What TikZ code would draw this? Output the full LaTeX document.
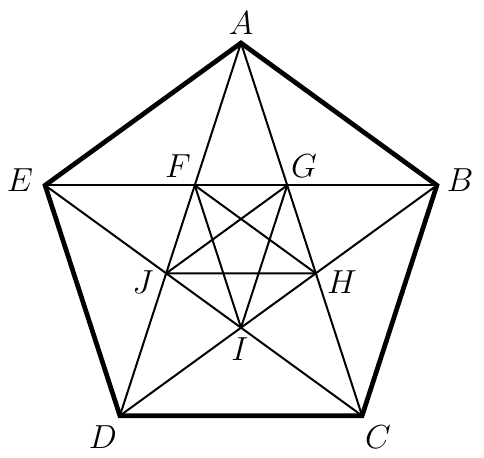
\documentclass[tikz,border=0pt]{standalone}

\tikzset{
	rim/.style={line width=1.7pt, line join=miter},
	chord/.style={line width=0.72pt},
	lbl/.style={inner sep=0.75pt, font=\fontsize{12.4}{15}\selectfont}
}

\begin{document}
\begin{tikzpicture}[x=0.36pt,y=0.36pt,yscale=-1,xscale=1]
		\useasboundingbox (0,0) rectangle (484,457);

		% Outer vertices of the pentagon
		\coordinate (A) at (241,43);
		\coordinate (B) at (436.9,185.3);
		\coordinate (C) at (362.1,415.7);
		\coordinate (D) at (119.9,415.7);
		\coordinate (E) at (45.1,185.3);

		% Inner vertices where the diagonals cross
		\coordinate (F) at (intersection of E--B and A--D);
		\coordinate (G) at (intersection of E--B and A--C);
		\coordinate (H) at (intersection of A--C and B--D);
		\coordinate (I) at (intersection of B--D and E--C);
		\coordinate (J) at (intersection of E--C and A--D);

		% Outer pentagon in heavy line
		\draw[rim] (A) -- (B) -- (C) -- (D) -- (E) -- cycle;

		% Diagonals of the outer pentagon
		\draw[chord] (A) -- (C);
		\draw[chord] (A) -- (D);
		\draw[chord] (E) -- (B);
		\draw[chord] (E) -- (C);
		\draw[chord] (B) -- (D);

		% Diagonals of the inner pentagon
		\draw[chord] (F) -- (H);
		\draw[chord] (H) -- (J);
		\draw[chord] (J) -- (G);
		\draw[chord] (G) -- (I);
		\draw[chord] (I) -- (F);

		% Letters
		\node[lbl] (lA) at (241,23) {\(A\)};
		\node[lbl] (lB) at (460,180) {\(B\)};
		\node[lbl] (lC) at (378,437) {\(C\)};
		\node[lbl] (lD) at (103,437) {\(D\)};
		\node[lbl] (lE) at (20,180) {\(E\)};
		\node[lbl] (lF) at (178,166) {\(F\)};
		\node[lbl] (lG) at (304,166) {\(G\)};
		\node[lbl] (lH) at (342,282) {\(H\)};
		\node[lbl] (lI) at (240,349) {\(I\)};
		\node[lbl] (lJ) at (143,282) {\(J\)};
	\end{tikzpicture}
\end{document}
